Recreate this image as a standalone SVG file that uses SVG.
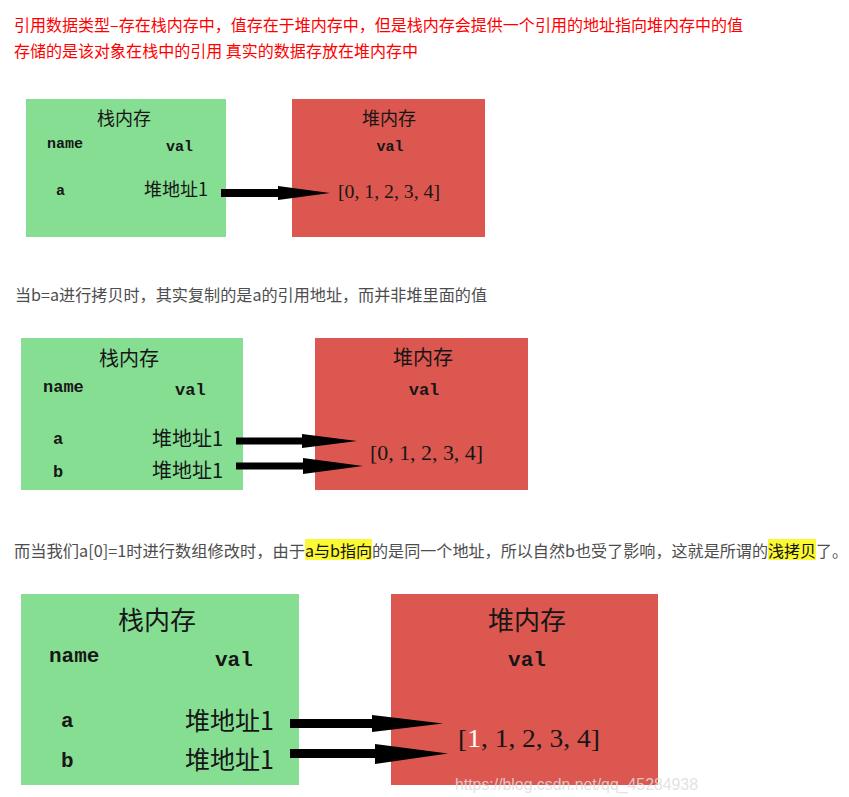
<svg xmlns="http://www.w3.org/2000/svg" width="849" height="797" viewBox="0 0 849 797">
<style>
.para{font-family:"Noto Sans CJK SC","Liberation Sans",sans-serif;font-size:16px}
.red{fill:#ff0000}
.gray{fill:#4d4d4d}
.stack{fill:#86de93}
.heap{fill:#dc574f}
.cjk{font-family:"Noto Sans CJK SC",sans-serif;fill:#161616}
.mono{font-family:"Liberation Mono","DejaVu Sans Mono",monospace;font-weight:bold;fill:#161616}
.arr{font-family:"Liberation Serif","DejaVu Serif",serif;fill:#161616}
.hl{fill:#fbf834}
.arrow{fill:#000}
.wm{font-family:"Liberation Sans",Arial,sans-serif;font-size:17px;fill:#dddddd;fill-opacity:0.85}
</style>
<rect width="849" height="797" fill="#ffffff"/>

<g id="intro">
<text class="para red" x="14" y="31" textLength="729" lengthAdjust="spacingAndGlyphs">引用数据类型–存在栈内存中，值存在于堆内存中，但是栈内存会提供一个引用的地址指向堆内存中的值</text>
<text class="para red" x="14" y="57" textLength="404" lengthAdjust="spacingAndGlyphs">存储的是该对象在栈中的引用 真实的数据存放在堆内存中</text>
</g>

<!-- Diagram 1 -->
<g id="stack1">
<rect class="stack" x="26" y="99" width="200" height="138"/>
<text class="cjk" x="124" y="125" font-size="18" text-anchor="middle">栈内存</text>
<text class="mono" x="47" y="148" font-size="15">name</text>
<text class="mono" x="166" y="151" font-size="15">val</text>
<text class="mono" x="56" y="195" font-size="15">a</text>
<text class="cjk" x="144" y="196" font-size="18" textLength="64" lengthAdjust="spacingAndGlyphs">堆地址1</text>
</g>
<g id="heap1">
<rect class="heap" x="292" y="99" width="193" height="138"/>
<text class="cjk" x="389" y="125" font-size="18" text-anchor="middle">堆内存</text>
<text class="mono" x="390" y="151" font-size="15" text-anchor="middle">val</text>
<text class="arr" x="338" y="198" font-size="19" textLength="102" lengthAdjust="spacingAndGlyphs">[0, 1, 2, 3, 4]</text>
</g>

<g id="text2">
<text class="para gray" x="15" y="301" textLength="472" lengthAdjust="spacingAndGlyphs">当b=a进行拷贝时，其实复制的是a的引用地址，而并非堆里面的值</text>
</g>

<!-- Diagram 2 -->
<g id="stack2">
<rect class="stack" x="21" y="338" width="222" height="152"/>
<text class="cjk" x="129" y="366" font-size="20" text-anchor="middle">栈内存</text>
<text class="mono" x="43" y="392" font-size="17">name</text>
<text class="mono" x="175" y="395" font-size="17">val</text>
<text class="mono" x="53" y="444" font-size="17">a</text>
<text class="mono" x="53" y="477" font-size="17">b</text>
<text class="cjk" x="152" y="446" font-size="20" textLength="71" lengthAdjust="spacingAndGlyphs">堆地址1</text>
<text class="cjk" x="152" y="478" font-size="20" textLength="71" lengthAdjust="spacingAndGlyphs">堆地址1</text>
</g>
<g id="heap2">
<rect class="heap" x="315" y="338" width="213" height="152"/>
<text class="cjk" x="423" y="365" font-size="20" text-anchor="middle">堆内存</text>
<text class="mono" x="424" y="395" font-size="17" text-anchor="middle">val</text>
<text class="arr" x="370" y="460" font-size="21" textLength="113" lengthAdjust="spacingAndGlyphs">[0, 1, 2, 3, 4]</text>
</g>

<g id="text3">
<rect class="hl" x="305" y="539" width="67" height="21"/>
<rect class="hl" x="768" y="539" width="48" height="21"/>
<text class="para gray" x="14" y="557" textLength="291" lengthAdjust="spacingAndGlyphs">而当我们a[0]=1时进行数组修改时，由于</text>
<text class="para" x="305" y="557" fill="#111" textLength="67" lengthAdjust="spacingAndGlyphs">a与b指向</text>
<text class="para gray" x="372" y="557" textLength="396" lengthAdjust="spacingAndGlyphs">的是同一个地址，所以自然b也受了影响，这就是所谓的</text>
<text class="para" x="768" y="557" fill="#111" textLength="48" lengthAdjust="spacingAndGlyphs">浅拷贝</text>
<text class="para gray" x="816" y="557">了。</text>
</g>

<!-- Diagram 3 -->
<g id="stack3">
<rect class="stack" x="21" y="594" width="278" height="191"/>
<text class="cjk" x="157" y="630" font-size="26" text-anchor="middle">栈内存</text>
<text class="mono" x="49" y="662" font-size="21">name</text>
<text class="mono" x="215" y="666" font-size="21">val</text>
<text class="mono" x="61" y="727" font-size="21">a</text>
<text class="mono" x="61" y="767" font-size="21">b</text>
<text class="cjk" x="185" y="730" font-size="25" textLength="89" lengthAdjust="spacingAndGlyphs">堆地址1</text>
<text class="cjk" x="185" y="769" font-size="25" textLength="89" lengthAdjust="spacingAndGlyphs">堆地址1</text>
</g>
<g id="heap3">
<rect class="heap" x="391" y="594" width="267" height="191"/>
<text class="cjk" x="527" y="630" font-size="26" text-anchor="middle">堆内存</text>
<text class="mono" x="527" y="666" font-size="21" text-anchor="middle">val</text>
<text class="arr" x="458" y="747" font-size="25" textLength="142" lengthAdjust="spacingAndGlyphs">[<tspan fill="#ffffff">1</tspan>, 1, 2, 3, 4]</text>
</g>

<g id="connectors">
<polygon class="arrow" points="221,189 278,189 278,186 330,193 278,200 278,197 221,197"/>
<polygon class="arrow" points="236,437.5 302,437.5 302,434 357,441 302,448 302,444.5 236,444.5"/>
<polygon class="arrow" points="236,462.5 303,462.5 303,458 363,466 303,474 303,469.5 236,469.5"/>
<polygon class="arrow" points="290,719 372,719 372,715 443,723.5 372,732 372,728 290,728"/>
<polygon class="arrow" points="290,749 375,749 375,744 448,753.5 375,764 375,758 290,758"/>
</g>

<text class="wm" x="455" y="790" textLength="243" lengthAdjust="spacingAndGlyphs">https://blog.csdn.net/qq_45284938</text>
</svg>
